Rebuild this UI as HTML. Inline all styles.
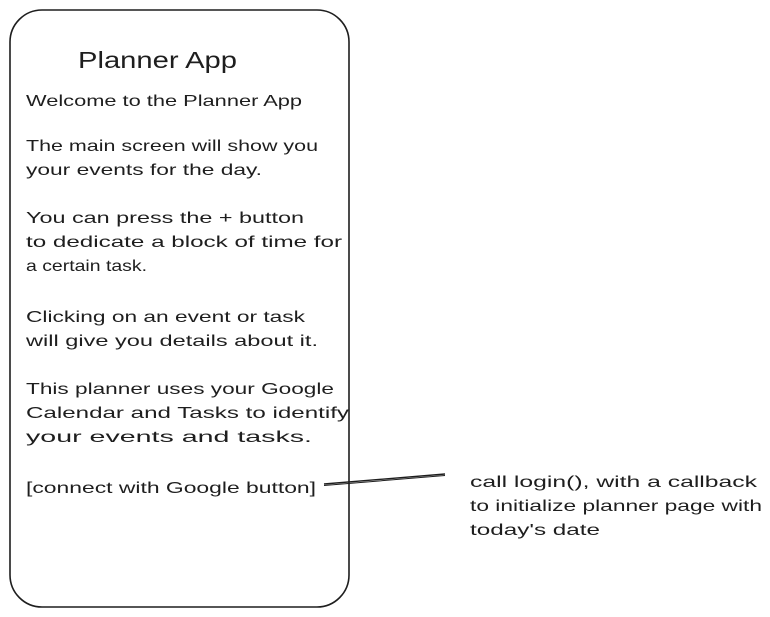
<!DOCTYPE html>
<html><head><meta charset="utf-8"><style>
html,body{margin:0;padding:0;background:#fff;width:770px;height:617px;overflow:hidden}
text{font-family:"Liberation Sans",sans-serif;fill:#1e1e1e}
</style></head><body>
<svg width="770" height="617" viewBox="0 0 770 617" xmlns="http://www.w3.org/2000/svg">
<rect x="10" y="10" width="339" height="597" rx="32" ry="32" fill="none" stroke="#1e1e1e" stroke-width="1.6"/>
<line x1="324" y1="484" x2="445" y2="474" stroke="#1e1e1e" stroke-width="1.4"/>
<line x1="324" y1="485.5" x2="445" y2="475.5" stroke="#1e1e1e" stroke-width="1"/>
<g font-size="23"><text x="78" y="68" textLength="159" lengthAdjust="spacingAndGlyphs">Planner App</text></g>
<g font-size="16">
<text x="26" y="106" textLength="276" lengthAdjust="spacingAndGlyphs">Welcome to the Planner App</text>
<text x="26" y="151" textLength="292" lengthAdjust="spacingAndGlyphs">The main screen will show you</text>
<text x="26" y="175" textLength="236" lengthAdjust="spacingAndGlyphs">your events for the day.</text>
<text x="26" y="223" textLength="278" lengthAdjust="spacingAndGlyphs">You can press the + button</text>
<text x="26" y="247" textLength="316" lengthAdjust="spacingAndGlyphs">to dedicate a block of time for</text>
<text x="26" y="271" textLength="121" lengthAdjust="spacingAndGlyphs">a certain task.</text>
<text x="26" y="322" textLength="279" lengthAdjust="spacingAndGlyphs">Clicking on an event or task</text>
<text x="26" y="346" textLength="292" lengthAdjust="spacingAndGlyphs">will give you details about it.</text>
<text x="26" y="394" textLength="308" lengthAdjust="spacingAndGlyphs">This planner uses your Google</text>
<text x="26" y="418" textLength="323" lengthAdjust="spacingAndGlyphs">Calendar and Tasks to identify</text>
<text x="26" y="442" textLength="286" lengthAdjust="spacingAndGlyphs">your events and tasks.</text>
<text x="26" y="493" textLength="290" lengthAdjust="spacingAndGlyphs">[connect with Google button]</text>
<text x="470" y="487" textLength="287" lengthAdjust="spacingAndGlyphs">call login(), with a callback</text>
<text x="470" y="511" textLength="292" lengthAdjust="spacingAndGlyphs">to initialize planner page with</text>
<text x="470" y="535" textLength="130" lengthAdjust="spacingAndGlyphs">today's date</text>
</g>
</svg>
</body></html>
